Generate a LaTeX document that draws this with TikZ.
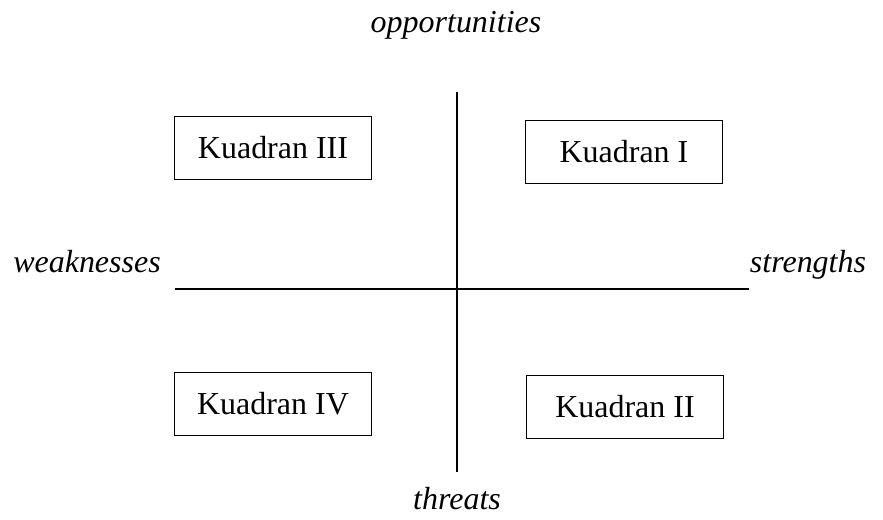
\documentclass[tikz,border=0pt]{standalone}
\usepackage{fontspec}
\setmainfont{Liberation Serif}
\usetikzlibrary{positioning}

\begin{document}
\begin{tikzpicture}[
        x=0.02cm, y=-0.02cm,
        every node/.style={font=\fontsize{18.2}{21}\selectfont},
        quad/.style={rectangle, draw, line width=1.1pt, minimum width=3.94cm, minimum height=1.26cm, inner sep=0pt},
        axis/.style={draw, line width=1.25pt},
        side/.style={font=\fontsize{18.2}{21}\selectfont\itshape, anchor=base, inner sep=0pt},
    ]
    \useasboundingbox (0,0) rectangle (883,520);

    % Axes
    \coordinate (top) at (457,92);
    \coordinate (bottom) at (457,472);
    \coordinate (left) at (175,289);
    \coordinate (right) at (749,289);
    \path [axis] (top) -- (bottom);
    \path [axis] (left) -- (right);

    % Labels
    \node [side] (opp) at (456,33) {opportunities};
    \node [side] (thr) at (457,509) {threats};
    \node [side] (weak) at (87,273) {weaknesses};
    \node [side] (str) at (808,273) {strengths};

    % Quadrants
    \node [quad] (q3) at (273,148) {Kuadran III};
    \node [quad] (q1) at (624,152) {Kuadran I};
    \node [quad] (q4) at (273,404) {Kuadran IV};
    \node [quad] (q2) at (625,407) {Kuadran II};

\end{tikzpicture}
\end{document}
